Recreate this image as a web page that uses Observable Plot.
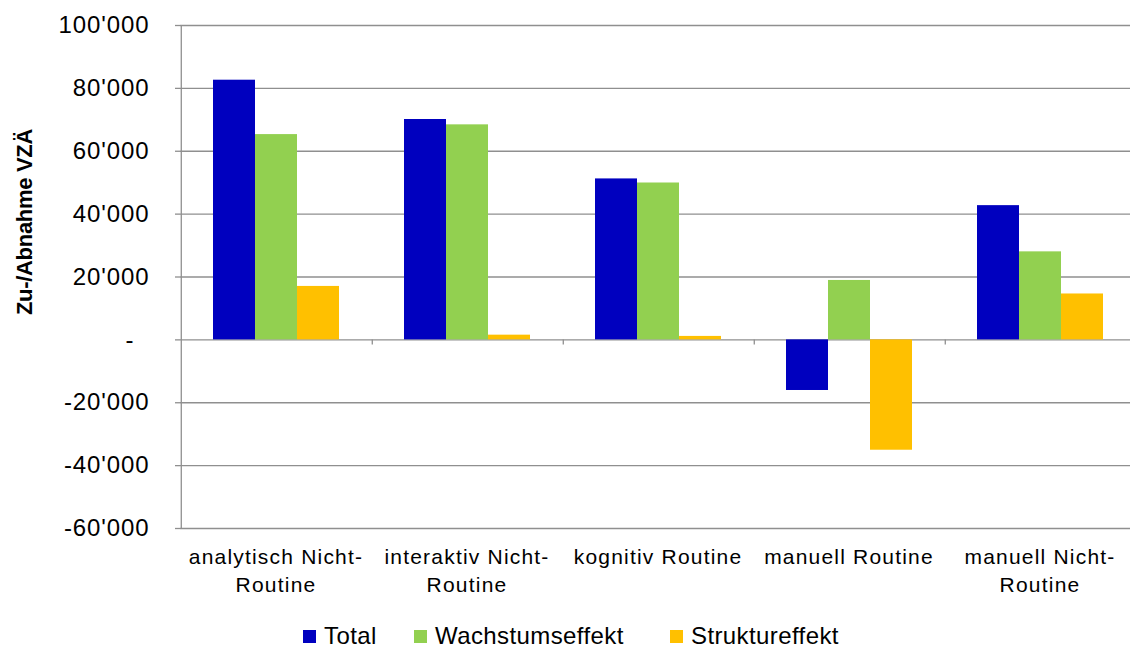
<!DOCTYPE html>
<html>
<head>
<meta charset="utf-8">
<script src="https://cdn.jsdelivr.net/npm/d3@7"></script>
<script src="https://cdn.jsdelivr.net/npm/@observablehq/plot@0.6"></script>
<style>
  html, body { margin: 0; padding: 0; background: white; }
  #wrap { position: relative; width: 1130px; height: 648px; overflow: hidden; font-family: "Liberation Sans", Arial, sans-serif; }
  #ylabel { position: absolute; left: 25px; top: 222px; transform: translate(-50%, -50%) rotate(-90deg); font-weight: bold; font-size: 22px; letter-spacing: -0.3px; white-space: nowrap; color: #000; }
  .leg-sq { position: absolute; width: 13px; height: 13px; top: 630px; }
  .leg-tx { position: absolute; top: 624px; font-size: 24px; line-height: 24px; white-space: nowrap; color: #000; letter-spacing: 0.4px; }
  .chart g[aria-label="y-axis tick label"] text { letter-spacing: 0.9px; }
  .chart g[aria-label="text"] text { letter-spacing: 1.2px; }
</style>
</head>
<body>
<div id="wrap">
  <div id="chart"></div>
  <div id="ylabel">Zu-/Abnahme VZÄ</div>
</div>
<script>
// ---- data ----
const categories = ["analytisch Nicht-Routine", "interaktiv Nicht-Routine", "kognitiv Routine", "manuell Routine", "manuell Nicht-Routine"];
const categoryLabels = ["analytisch Nicht-\nRoutine", "interaktiv Nicht-\nRoutine", "kognitiv Routine", "manuell Routine", "manuell Nicht-\nRoutine"];
const series = ["Total", "Wachstumseffekt", "Struktureffekt"];
const total = [82600, 70100, 51200, -16100, 42700];
const wachstum = [65300, 68400, 49900, 18900, 28000];
const struktur = [17000, 1500, 1100, -35100, 14600];
const colors = ["#0000BF", "#92D050", "#FFC000"];
const yTicks = [-60000, -40000, -20000, 0, 20000, 40000, 60000, 80000, 100000];

// ---- layout ----
const W = 1130, H = 610, ML = 179, MR = -6, MT = 25, MB = 82;
const PO = 0.753;
const facetW = (W - ML - MR) / categories.length;
const step = facetW / (series.length + 2 * PO);
const edgeDx = -(PO * step + step / 2);
const grey = "#8f8f8f";

const values = [total, wachstum, struktur];
const rows = categories.flatMap((c, i) => series.map((s, j) => ({category: c, series: s, value: values[j][i]})));
const boundaries = categories.map((c, i) => ({category: c, y1: i === 0 ? yTicks[0] : 0, y2: i === 0 ? yTicks[yTicks.length - 1] : -1600}));
const labelRows = categories.map((c, i) => ({category: c, label: categoryLabels[i]}));

const locale = d3.formatLocale({decimal: ".", thousands: "'", grouping: [3], currency: ["", ""], minus: "-"});
const fmt = d => d === 0 ? "-\u00a0\u00a0" : locale.format(",")(d);

const chart = Plot.plot({
  width: W, height: H,
  marginLeft: ML, marginRight: MR, marginTop: MT, marginBottom: MB,
  className: "chart",
  style: {fontFamily: "'Liberation Sans', Arial, sans-serif", fontSize: "24px", background: "white", overflow: "visible", color: "black"},
  fx: {domain: categories, padding: 0, axis: null},
  x: {domain: series, paddingInner: 0, paddingOuter: PO, axis: null},
  y: {domain: [yTicks[0], yTicks[yTicks.length - 1]], axis: null},
  color: {domain: series, range: colors},
  marks: [
    Plot.gridY(yTicks, {stroke: grey, strokeOpacity: 1, strokeWidth: 1.3}),
    Plot.barY(rows, {fx: "category", x: "series", y: "value", fill: "series"}),
    Plot.ruleX(boundaries, {fx: "category", x: () => "Total", y1: "y1", y2: "y2", dx: edgeDx, stroke: grey, strokeWidth: 1.3}),
    Plot.axisY(yTicks, {tickSize: 5, tickPadding: 26, tickFormat: fmt, stroke: grey, strokeWidth: 1.3, fill: "black", fontSize: 24}),
    Plot.text(labelRows, {fx: "category", text: "label", frameAnchor: "bottom", lineAnchor: "top", dy: 15, lineHeight: 1.35, fontSize: 21, fill: "black"})
  ]
});
document.getElementById("chart").appendChild(chart);

// ---- legend ----
const legX = [303, 414, 670];
const wrap = document.getElementById("wrap");
series.forEach((s, i) => {
  const sq = document.createElement("div");
  sq.className = "leg-sq";
  sq.style.left = legX[i] + "px";
  sq.style.background = colors[i];
  wrap.appendChild(sq);
  const tx = document.createElement("div");
  tx.className = "leg-tx";
  tx.style.left = (legX[i] + 21) + "px";
  tx.textContent = s;
  wrap.appendChild(tx);
});
</script>
</body>
</html>
